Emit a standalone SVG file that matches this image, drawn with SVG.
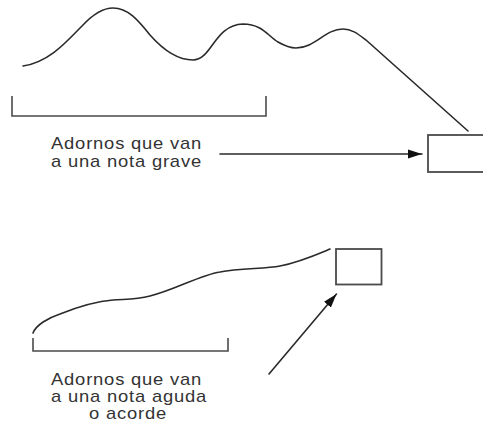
<svg xmlns="http://www.w3.org/2000/svg" width="483" height="427" viewBox="0 0 483 427">
  <style>
    .line { fill: none; stroke: #2a2a2a; stroke-width: 1.6; stroke-linecap: round; stroke-linejoin: round; }
    .bracket { fill: none; stroke: #4a4a4a; stroke-width: 1.6; }
    .box { fill: #ffffff; stroke: #4a4a4a; stroke-width: 1.8; }
    .label { font-family: "Liberation Sans", Arial, Helvetica, sans-serif; font-size: 16px; letter-spacing: 0.7px; fill: #333333; }
  </style>
  <defs>
    <marker id="head" markerWidth="15" markerHeight="10" refX="14" refY="5" orient="auto" markerUnits="userSpaceOnUse">
      <path d="M0,0.5 L14,5 L0,9.5 Z" fill="#111111"/>
    </marker>
  </defs>

  <rect width="483" height="427" fill="#ffffff"/>

  <!-- low-note ornament: melodic contour, bracket, label and target note -->
  <g id="contour-grave">
    <path class="line" d="M23,66 C50,62 68,40 82,26 C95,12 105,8 113,8 C128,8 138,20 150,35 C165,52 180,60 193,60 C212,60 214,25 243,24 C262,24 268,36 278,42 C285,46 290,48 296,48 C315,48 325,29 343,29 C352,29 358,34 366,40 L468,131"/>
  </g>
  <g id="bracket-grave">
    <path class="bracket" d="M12,96 L12,116 L266,116 L266,96"/>
  </g>
  <g id="label-grave" transform="translate(51,0) scale(1.15,1)">
    <text class="label" x="0" y="149.5">Adornos que van</text>
    <text class="label" x="0" y="167">a una nota grave</text>
  </g>
  <g id="note-grave">
    <rect class="box" x="428" y="135" width="62" height="37"/>
  </g>

  <!-- high-note ornament -->
  <g id="contour-aguda">
    <path class="line" d="M33,333 C36,325 48,318 60,314 C80,306 100,301 113,300 C125,299 135,300 150,296 C175,290 200,275 220,272 C240,268 265,269 280,266 C300,262 318,254 330,249"/>
  </g>
  <g id="bracket-aguda">
    <path class="bracket" d="M33,338 L33,351 L228,351 L228,338"/>
  </g>
  <g id="label-aguda" transform="translate(51,0) scale(1.15,1)">
    <text class="label" x="0" y="385">Adornos que van</text>
    <text class="label" x="0" y="402.5">a una nota aguda</text>
    <text class="label" x="33" y="419.5">o acorde</text>
  </g>
  <g id="note-aguda">
    <rect class="box" x="336" y="249" width="45.5" height="35.5"/>
  </g>

  <!-- connectors -->
  <g id="connectors">
    <line class="line" x1="220" y1="154" x2="422" y2="154" marker-end="url(#head)"/>
    <line class="line" x1="269" y1="374" x2="336.5" y2="294" marker-end="url(#head)"/>
  </g>
</svg>
